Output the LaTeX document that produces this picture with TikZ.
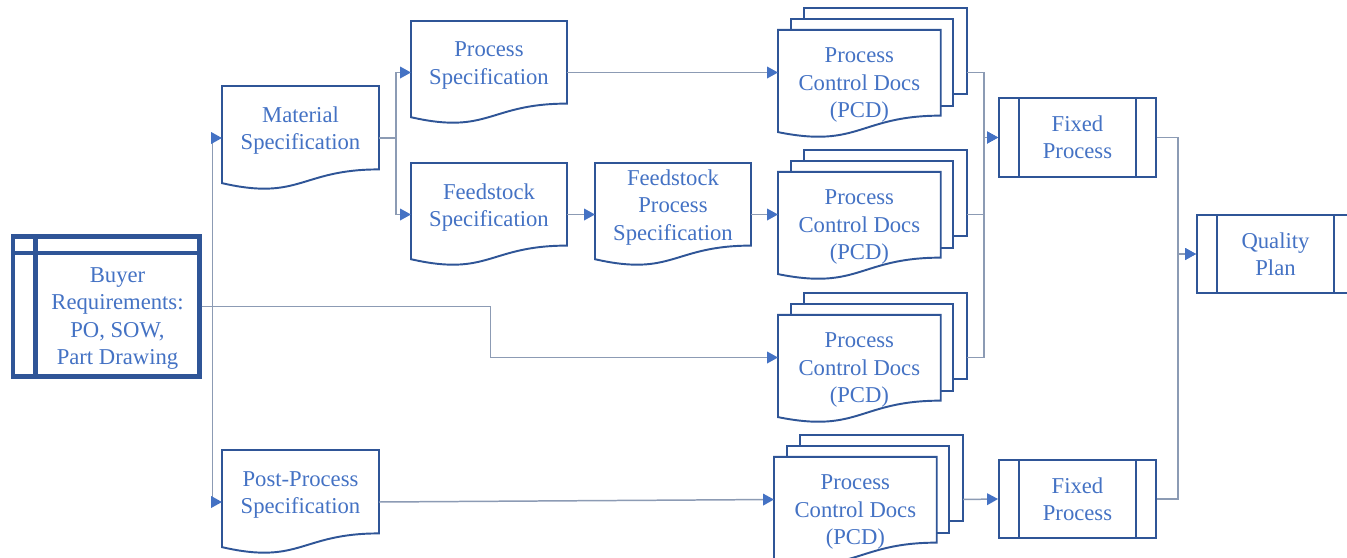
\documentclass[tikz,border=0pt]{standalone}
\usepackage{fontspec}
\setmainfont{Liberation Serif}
\usetikzlibrary{arrows.meta}
\definecolor{boxc}{RGB}{47,85,151}
\definecolor{txtc}{RGB}{68,114,196}
\definecolor{linec}{RGB}{140,155,180}
\definecolor{arrc}{RGB}{68,114,196}
\tikzset{
  boxline/.style={draw=boxc, line width=1.1pt, fill=white, line join=miter},
  lbl/.style={text=txtc, align=center, font=\fontsize{12.9}{15.6}\selectfont, inner sep=0pt},
  conn/.style={draw=linec, line width=0.85pt, -{Triangle[length=6.2pt,width=6.6pt,color=arrc]}},
  procbox/.style={draw=boxc, line width=1.1pt, fill=white, minimum width=3.14cm, minimum height=1.57cm,
    lbl, path picture={
      \draw[boxc, line width=1.1pt]
        ([xshift=0.392cm]path picture bounding box.north west) -- ([xshift=0.392cm]path picture bounding box.south west)
        ([xshift=-0.392cm]path picture bounding box.north east) -- ([xshift=-0.392cm]path picture bounding box.south east);}},
  buyerbox/.style={draw=boxc, line width=2.3pt, line join=miter, minimum width=3.73cm, minimum height=2.8cm,
    path picture={
      \draw[boxc, line width=2.3pt]
        ([yshift=-0.33cm]path picture bounding box.north west) -- ([yshift=-0.33cm]path picture bounding box.north east)
        ([xshift=0.45cm]path picture bounding box.north west) -- ([xshift=0.45cm]path picture bounding box.south west);}},
}
% document shape: name, x0, ytop, w, h, text
\newcommand\docnode[6]{%
  \pgfmathsetmacro\dxa{#2+#4}%
  \pgfmathsetmacro\dxm{#2+#4/2}%
  \pgfmathsetmacro\dyr{#3+0.802*#5}%
  \pgfmathsetmacro\dyc{#3+1.1075*#5}%
  \pgfmathsetmacro\dyl{#3+0.934*#5}%
  \pgfmathsetmacro\dym{#3+0.5*#5}%
  \pgfmathsetmacro\dyt{#3+0.401*#5+3}%
  \draw[boxline] (#2,#3) -- (\dxa,#3) -- (\dxa,\dyr) .. controls (\dxm,\dyr) and (\dxm,\dyc) .. (#2,\dyl) -- cycle;
  \coordinate (#1w) at (#2,\dym);
  \coordinate (#1e) at (\dxa,\dym);
  \node[lbl] (#1) at (\dxm,\dyt) {#6};
}
% multi-document shape: name, x0, ytop, text  (w=189, h=129)
\newcommand\multidoc[4]{%
  \pgfmathsetmacro\mbl{#2+0.1376*189}%
  \pgfmathsetmacro\mbr{#2+189}%
  \pgfmathsetmacro\mbb{#3+0.6663*129}%
  \pgfmathsetmacro\mml{#2+0.0709*189}%
  \pgfmathsetmacro\mmr{#2+0.9259*189}%
  \pgfmathsetmacro\mmt{#3+0.084*129}%
  \pgfmathsetmacro\mmb{#3+0.757*129}%
  \pgfmathsetmacro\mfr{#2+0.8609*189}%
  \pgfmathsetmacro\mfc{#2+0.4305*189}%
  \pgfmathsetmacro\mft{#3+0.1701*129}%
  \pgfmathsetmacro\mfb{#3+0.8344*129}%
  \pgfmathsetmacro\mfcc{#3+1.0899*129}%
  \pgfmathsetmacro\mfl{#3+0.9621*129}%
  \pgfmathsetmacro\mym{#3+0.5*129}%
  \pgfmathsetmacro\myt{#3+77}%
  \draw[boxline] (\mbl,#3) rectangle (\mbr,\mbb);
  \draw[boxline] (\mml,\mmt) rectangle (\mmr,\mmb);
  \draw[boxline] (#2,\mft) -- (\mfr,\mft) -- (\mfr,\mfb) .. controls (\mfc,\mfb) and (\mfc,\mfcc) .. (#2,\mfl) -- cycle;
  \coordinate (#1w) at (#2,\mym);
  \coordinate (#1e) at (\mbr,\mym);
  \node[lbl] (#1) at (\mfc,\myt) {#4};
}
\begin{document}
\begin{tikzpicture}[x=0.02cm, y=-0.02cm]
\useasboundingbox (0,0) rectangle (1347,558);
\fill[white] (0,0) rectangle (1347,558);

% Buyer requirements
\node[buyerbox] (buyer) at (106.25,306.5) {};
\node[lbl] (buyertxt) at (117.5,318.5) {Buyer\\Requirements:\\PO, SOW,\\Part Drawing};

% documents
\docnode{mat}{222}{86}{157}{104}{Material\\Specification}
\docnode{proc}{411}{21}{156}{103}{Process\\Specification}
\docnode{feed}{411}{163}{156}{103}{Feedstock\\Specification}
\docnode{fps}{595}{163}{156}{103}{Feedstock\\Process\\Specification}
\docnode{post}{222}{450}{157}{104}{Post-Process\\Specification}

% multi documents
\multidoc{pcda}{778}{8}{Process\\Control Docs\\(PCD)}
\multidoc{pcdb}{778}{150}{Process\\Control Docs\\(PCD)}
\multidoc{pcdc}{778}{293}{Process\\Control Docs\\(PCD)}
\multidoc{pcdd}{774}{435}{Process\\Control Docs\\(PCD)}

% predefined processes
\node[procbox] (fixa) at (1077.5,137.5) {Fixed\\Process};
\node[procbox] (fixb) at (1077.5,499) {Fixed\\Process};
\node[procbox] (qual) at (1275.5,254) {Quality\\Plan};

% connectors
\draw[conn] (buyer.east) -- ++(11,0) |- (matw);
\draw[conn] (buyer.east) -- ++(11,0) |- (postw);
\draw[conn] (buyer.east) -- ++(289,0) |- (pcdcw);
\draw[conn] (mate) -- ++(17,0) |- (procw);
\draw[conn] (mate) -- ++(17,0) |- (feedw);
\draw[conn] (proce) -- (pcdaw);
\draw[conn] (feede) -- (fpsw);
\draw[conn] (fpse) -- (pcdbw);
\draw[conn] (poste) -- (pcddw);
\draw[conn] (pcdae) -- ++(17,0) |- (fixa.west);
\draw[conn] (pcdbe) -- ++(17,0) |- (fixa.west);
\draw[conn] (pcdce) -- ++(17,0) |- (fixa.west);
\draw[conn] (pcdde) -- (fixb.west);
\draw[conn] (fixa.east) -- ++(21,0) |- (qual.west);
\draw[conn] (fixb.east) -- ++(21,0) |- (qual.west);
\end{tikzpicture}
\end{document}
